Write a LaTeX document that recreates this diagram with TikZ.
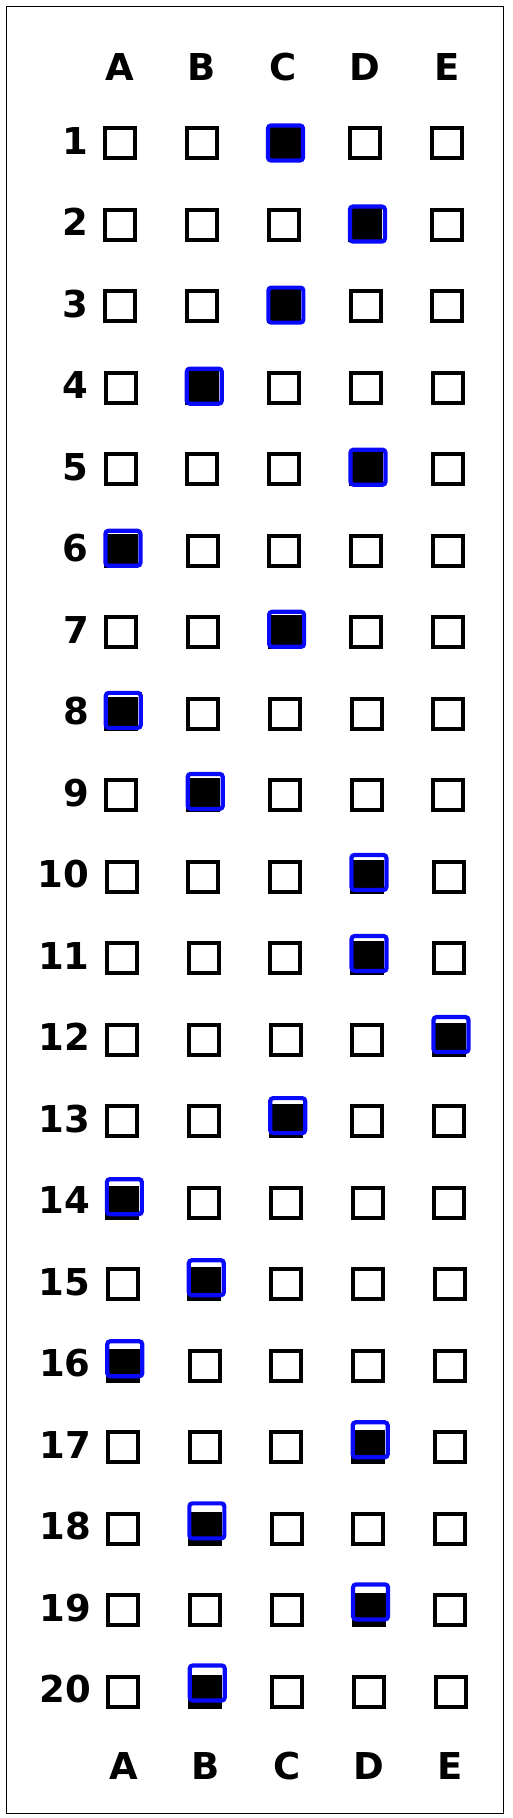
\documentclass[tikz,border=0pt]{standalone}
\usepackage{fontspec}
\setmainfont{DejaVu Sans}
\begin{document}
\begin{tikzpicture}[x=1pt,y=-1pt,
  box/.style={draw=black,line width=4pt,minimum size=30pt,inner sep=0pt,outer sep=0pt},
  filledbox/.style={box,fill=black},
  markring/.style={draw={rgb,255:red,10;green,10;blue,250},line width=4.2pt,minimum size=35pt,inner sep=0pt,rounded corners=3pt},
  lbl/.style={font=\fontsize{37}{40}\selectfont\bfseries,inner sep=0pt,anchor=base},
  num/.style={font=\fontsize{37}{40}\selectfont\bfseries,inner sep=0pt,anchor=base east}]
\useasboundingbox (0,0) rectangle (513,1818);
\node[draw=black,line width=1.3pt,minimum width=497pt,minimum height=1807pt,inner sep=0pt,anchor=north west] (frame) at (6,6) {};
% header letters
\foreach \L [count=\c] in {A,B,C,D,E} {
  \node[lbl] (top-\c) at ({120+81.75*(\c-1)},80) {\L};
  \node[lbl] (bot-\c) at ({123.5+81.75*(\c-1)},1779) {\L};
}
% rows
\foreach \ans [count=\r] in {3,4,3,2,4,1,3,1,2,4,4,5,3,1,2,1,4,2,4,2} {
  \pgfmathsetmacro{\yy}{143+81.5*(\r-1)}
  \pgfmathsetmacro{\sk}{0.184*(\r-1)}
  \node[num] (n-\r) at ({88+\sk},{\yy+11}) {\r};
  \foreach \c in {1,...,5} {
    \ifnum\c=\ans
      \node[filledbox] (b-\r-\c) at ({120+81.75*(\c-1)+\sk},\yy) {};
      \node[markring] (m-\r) at ({122+81.75*(\c-1)+\sk},{\yy-0.45*(\r-1)}) {};
    \else
      \node[box] (b-\r-\c) at ({120+81.75*(\c-1)+\sk},\yy) {};
    \fi
  }
}
\end{tikzpicture}
\end{document}
